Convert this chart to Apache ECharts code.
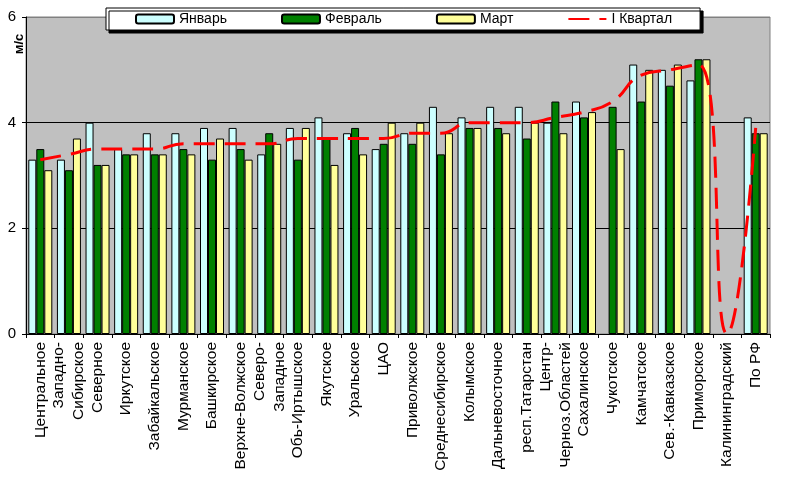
<!DOCTYPE html>
<html>
<head>
<meta charset="utf-8">
<script src="https://cdn.jsdelivr.net/npm/echarts@6/dist/echarts.min.js"></script>
<style>
html,body{margin:0;padding:0;background:#fff;}
#chart{width:800px;height:479px;}
</style>
</head>
<body>
<div id="chart"></div>
<script>
var categories = ['Центральное','Западно-\nСибирское','Северное','Иркутское','Забайкальское','Мурманское','Башкирское','Верхне-Волжское','Северо-\nЗападное','Обь-Иртышское','Якутское','Уральское','ЦАО','Приволжское','Среднесибирское','Колымское','Дальневосточное','респ.Татарстан','Центр-\nЧерноз.Областей','Сахалинское','Чукотское','Камчатское','Сев.-Кавказское','Приморское','Калининградский','По РФ'];
var janValues = [3.3,3.3,4.0,3.5,3.8,3.8,3.9,3.9,3.4,3.9,4.1,3.8,3.5,3.8,4.3,4.1,4.3,4.3,4.0,4.4,null,5.1,5.0,4.8,null,4.1];
var febValues = [3.5,3.1,3.2,3.4,3.4,3.5,3.3,3.5,3.8,3.3,3.7,3.9,3.6,3.6,3.4,3.9,3.9,3.7,4.4,4.1,4.3,4.4,4.7,5.2,null,3.8];
var marValues = [3.1,3.7,3.2,3.4,3.4,3.4,3.7,3.3,3.6,3.9,3.2,3.4,4.0,4.0,3.8,3.9,3.8,4.0,3.8,4.2,3.5,5.0,5.1,5.2,null,3.8];
var quarterValues = [3.3,3.4,3.5,3.5,3.5,3.6,3.6,3.6,3.6,3.7,3.7,3.7,3.7,3.8,3.8,4.0,4.0,4.0,4.1,4.2,4.4,4.9,5.0,5.1,0,3.9];
var yTicks = [0,2,4,6];

var font = "'Liberation Sans', Arial, sans-serif";
var chart = echarts.init(document.getElementById('chart'), null, {renderer:'canvas'});
var barStyle = function(c){ return {color:c, borderColor:'#000', borderWidth:1}; };
chart.setOption({
  animation:false,
  backgroundColor:'#fff',
  textStyle:{fontFamily:font},
  grid:{left:26,right:30,top:17,bottom:145,show:true,backgroundColor:'#C0C0C0',borderColor:'#808080',borderWidth:1},
  legend:{
    left:106, top:8,
    data:['Январь','Февраль','Март',{name:'I Квартал',itemStyle:{opacity:0}}],
    itemGap:54, itemWidth:38, itemHeight:9,
    padding:[4,28,4,29],
    backgroundColor:'#fff', borderColor:'#000', borderWidth:1,
    shadowColor:'#000', shadowBlur:0, shadowOffsetX:3, shadowOffsetY:3,
    textStyle:{fontSize:14,color:'#000',fontFamily:font}
  },
  xAxis:{
    type:'category', data:categories,
    axisLine:{lineStyle:{color:'#000',width:1}},
    axisTick:{show:true,length:4,lineStyle:{color:'#000'}},
    axisLabel:{interval:0,rotate:90,fontSize:15.5,lineHeight:20,color:'#000',margin:8,fontFamily:font}
  },
  yAxis:{
    type:'value', min:yTicks[0], max:yTicks[yTicks.length-1], interval:2,
    axisLine:{show:true,lineStyle:{color:'#000'}},
    axisTick:{show:true,length:4,lineStyle:{color:'#000'}},
    axisLabel:{fontSize:15,color:'#000',margin:10,fontFamily:font},
    splitLine:{show:true,lineStyle:{color:['#000','#000','#000','#808080'],width:1}}
  },
  graphic:[{
    type:'text', x:19, y:44, rotation:Math.PI/2,
    style:{text:'м/с',font:'bold 13px '+font,fill:'#000',textAlign:'center',textVerticalAlign:'middle'}
  }],
  series:[
    {name:'Январь',type:'bar',data:janValues,barWidth:8,barGap:'0%',itemStyle:barStyle('#CCFFFF')},
    {name:'Февраль',type:'bar',data:febValues,barWidth:8,barGap:'0%',itemStyle:barStyle('#008000')},
    {name:'Март',type:'bar',data:marValues,barWidth:8,barGap:'0%',itemStyle:barStyle('#FFFF99')},
    {name:'I Квартал',type:'line',data:quarterValues,smooth:0.5,symbol:'none',
      lineStyle:{color:'#FF0000',width:3,type:[21,10]},itemStyle:{color:'#FF0000'},z:5}
  ]
});
</script>
</body>
</html>
